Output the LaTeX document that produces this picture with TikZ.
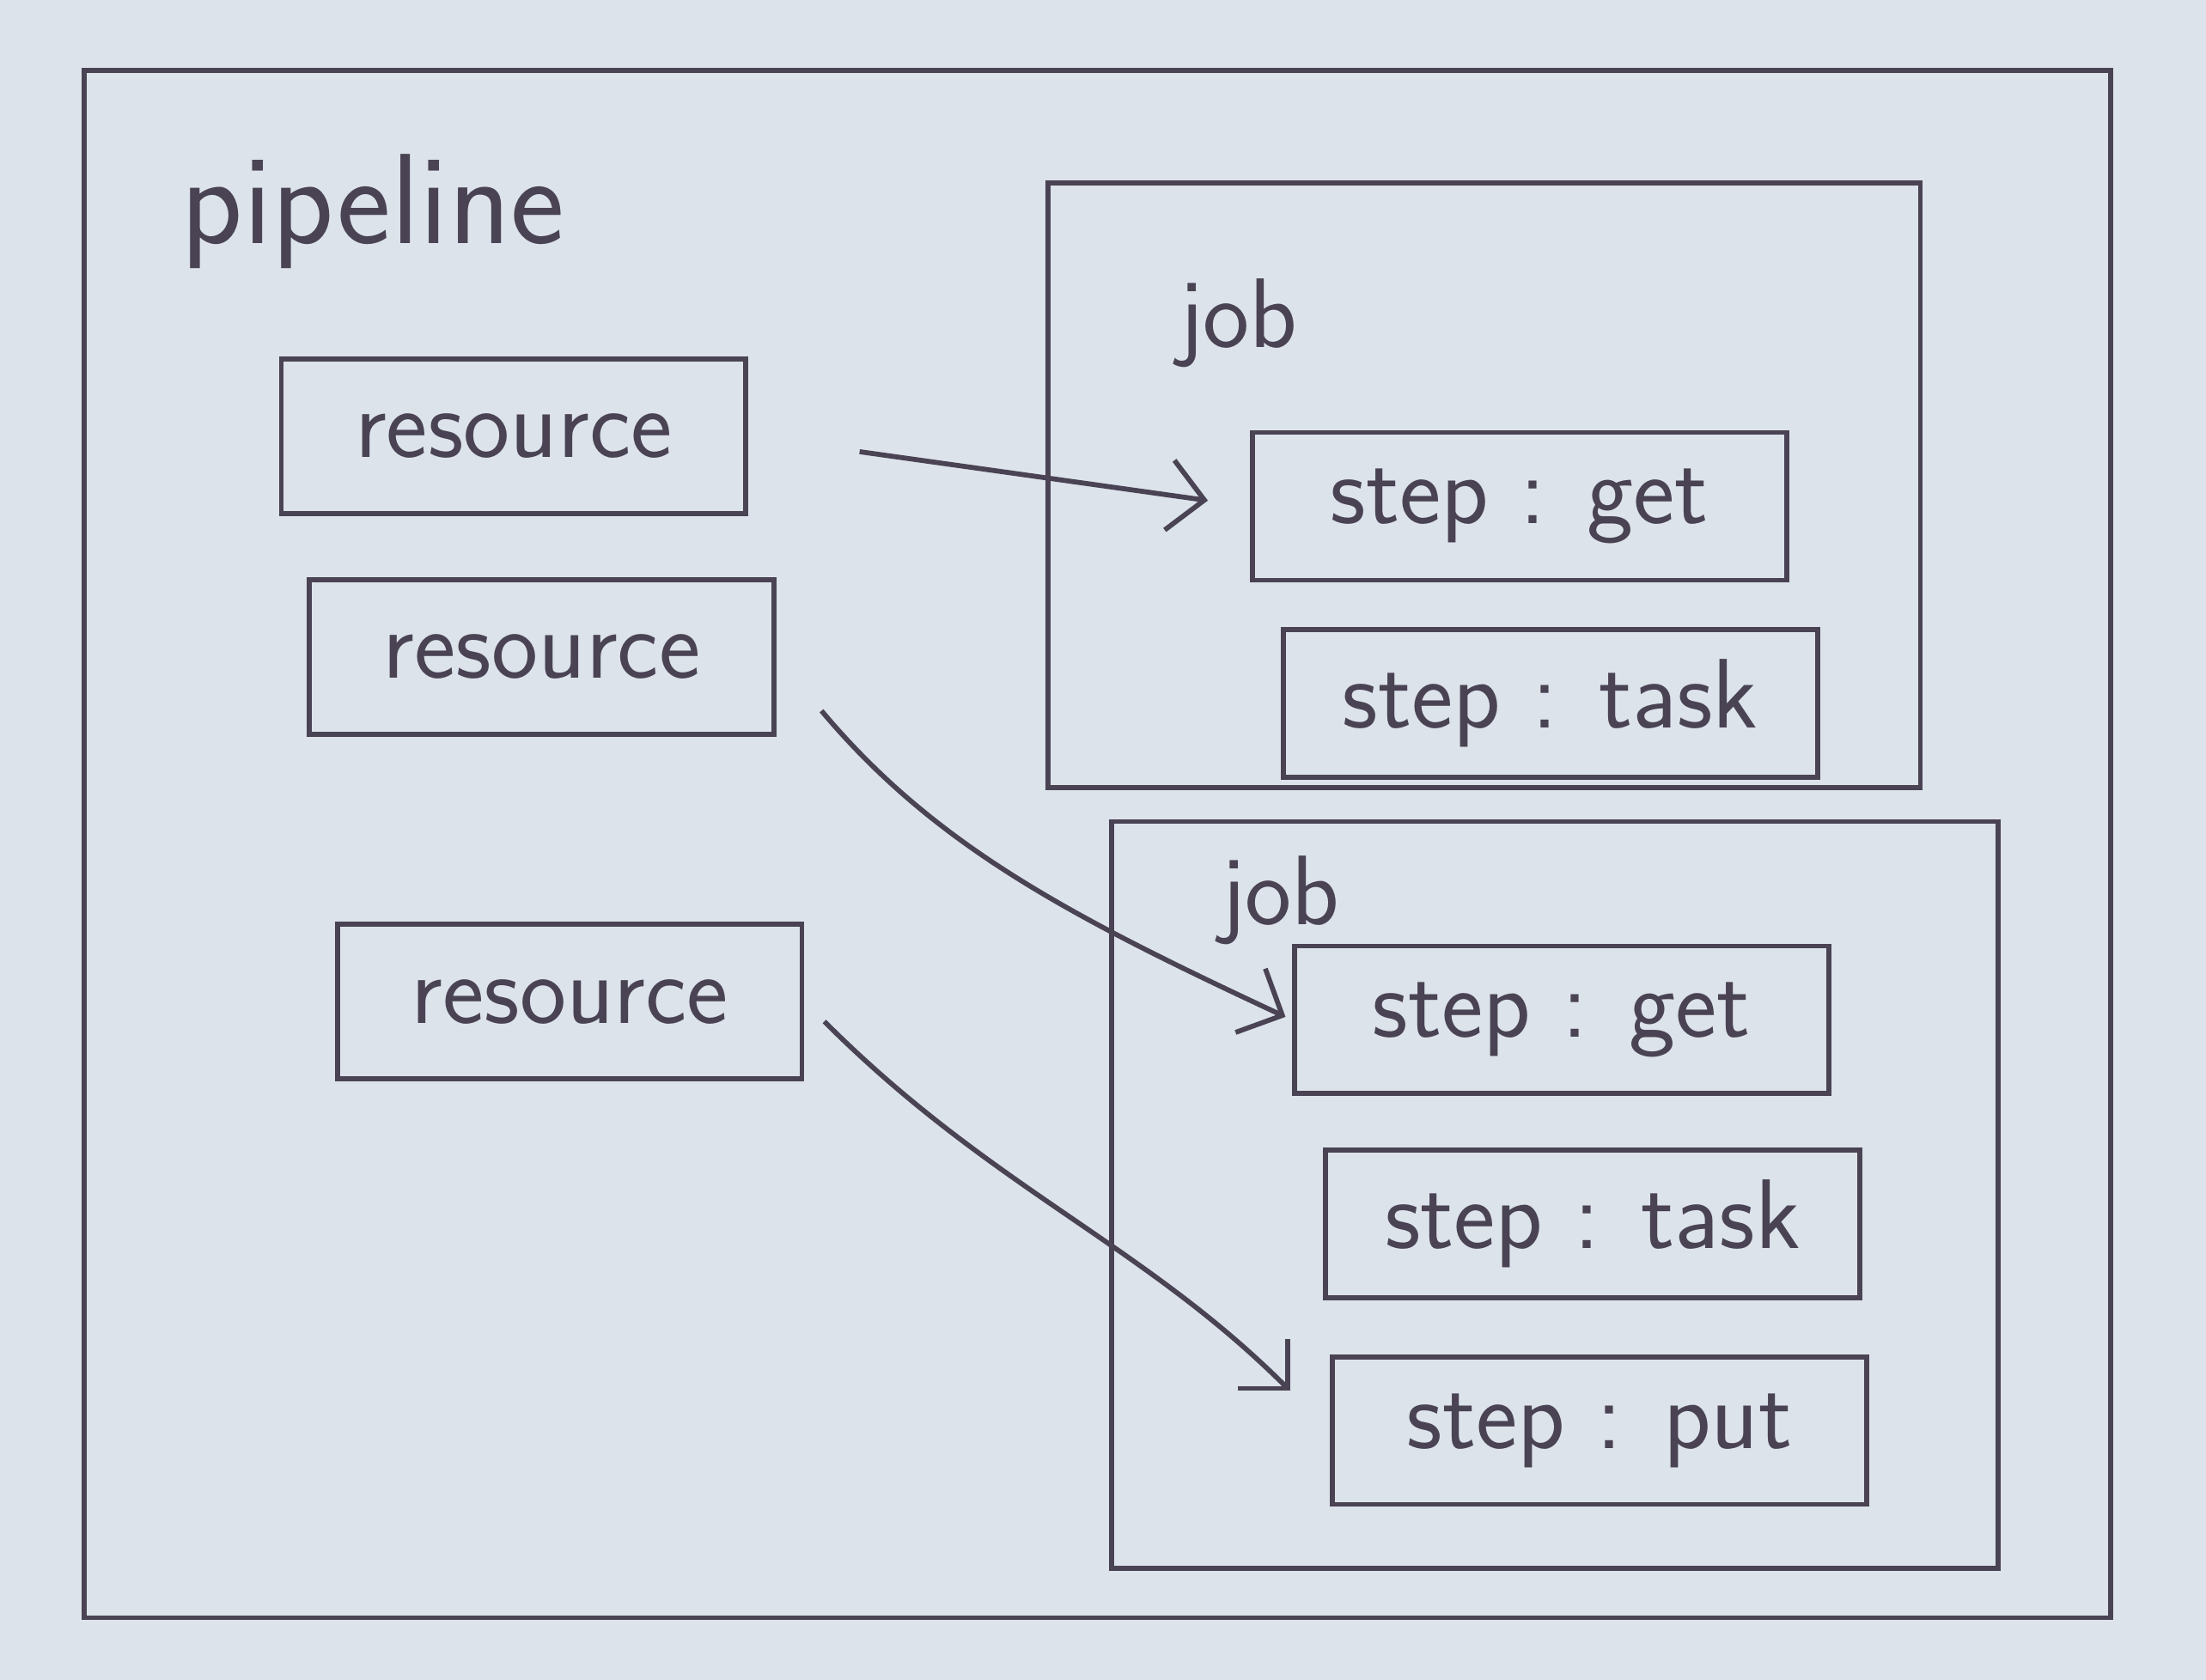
\documentclass[tikz,border=0pt]{standalone}
\usetikzlibrary{arrows.meta}
\definecolor{paper}{HTML}{DCE3EA}
\definecolor{ink}{HTML}{4A4354}
\begin{document}
\begin{tikzpicture}[
	box/.style={ draw=ink, line width=1pt, inner sep=0pt },
	resource/.style={ box, minimum width=3.3cm, minimum height=1.1cm, font=\sffamily\fontsize{20}{24}\selectfont },
	stepbox/.style={ box, minimum width=3.8cm, minimum height=1.05cm, font=\sffamily\fontsize{20}{24}\selectfont },
	title/.style={ text=ink, font=\sffamily\fontsize{26}{30}\selectfont },
	link/.style={ draw=ink, line width=1pt, -{Straight Barb[length=2.5mm,width=5mm]} }
]
\fill[paper] (0,0) rectangle (15.68,11.94);
\useasboundingbox (0,0) rectangle (15.68,11.94);

\node at (7.8,5.94) (pipe) [box, minimum width=14.4cm, minimum height=11cm] {};
\node at (2.65,10.44) (pl) [title] {pipeline};

\node at (3.65,8.84) (r1) [resource,text=ink] {resource};
\node at (3.85,7.27) (r2) [resource,text=ink] {resource};
\node at (4.05,4.82) (r3) [resource,text=ink] {resource};

\node at (10.55,8.49) (job1) [box, minimum width=6.2cm, minimum height=4.3cm] {};
\node at (8.8,9.64) (jl1) [title,font=\sffamily\fontsize{20}{24}\selectfont] {job};
\node at (10.8,8.34) (g1) [stepbox,text=ink] {step : get};
\node at (11.02,6.94) (t1) [stepbox,text=ink] {step : task};

\node at (11.05,3.445) (job2) [box, minimum width=6.3cm, minimum height=5.31cm] {};
\node at (9.1,5.54) (jl2) [title,font=\sffamily\fontsize{20}{24}\selectfont] {job};
\node at (11.1,4.69) (g2) [stepbox,text=ink] {step : get};
\node at (11.32,3.24) (t2) [stepbox,text=ink] {step : task};
\node at (11.37,1.77) (p2) [stepbox,text=ink] {step : put};

\draw[link, shorten <=0.8cm, shorten >=0.3cm] (r1.east) -- (g1.west);
\draw[link, shorten <=0.5cm, shorten >=0.05cm] (r2.east) to[out=-50,in=155] (g2.west);
\draw[link, shorten <=0.2cm, shorten >=0.4cm] (r3.east) to[out=-45,in=135] (p2.west);

\end{tikzpicture}
\end{document}
